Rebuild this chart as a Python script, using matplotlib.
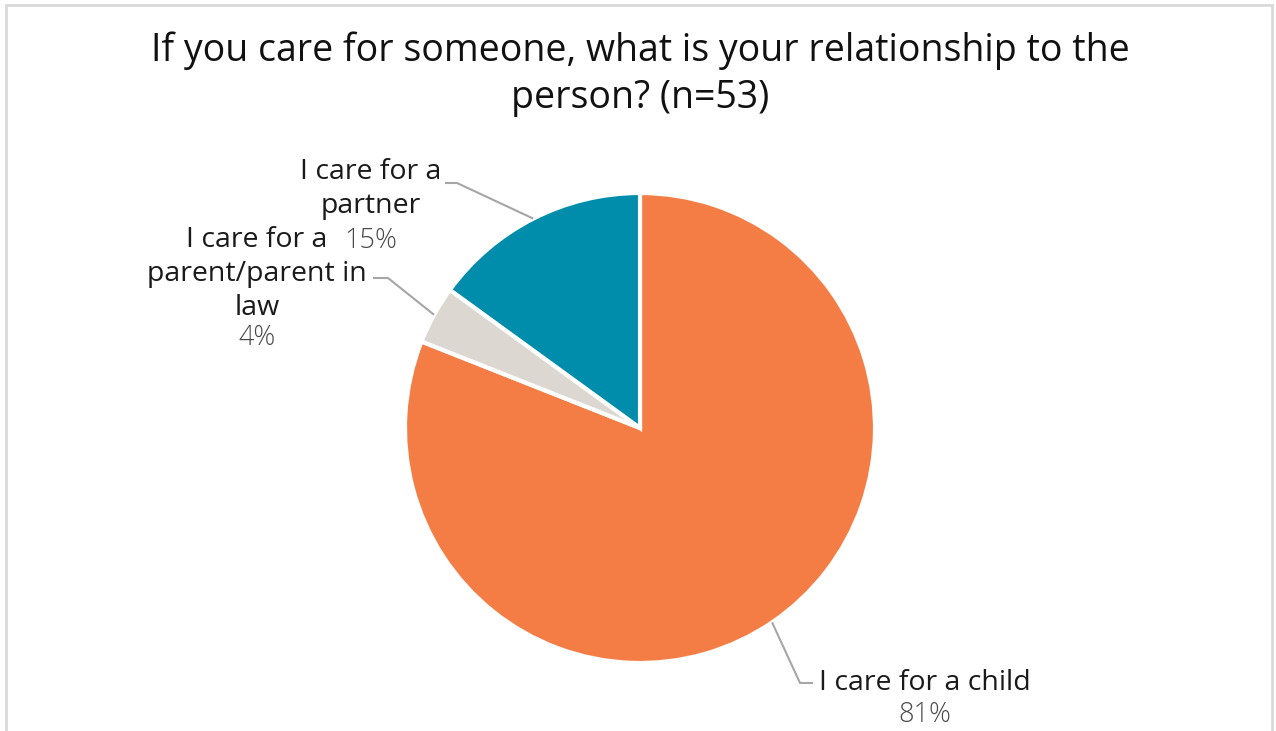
import matplotlib
matplotlib.use('Agg')
import matplotlib.pyplot as plt
import numpy as np
from matplotlib.patches import Rectangle

# survey answers (share of carers, %)
categories = ['I care for a child', 'I care for a\nparent/parent in\nlaw', 'I care for a\npartner']
shares = [81, 4, 15]
pct_labels = ['81%', '4%', '15%']
colors = ['#F47D45', '#DDD7D2', '#008CAB']
title = 'If you care for someone, what is your relationship to the\nperson? (n=53)'

plt.rcParams['font.family'] = ['Open Sans', 'DejaVu Sans']

W, H = 1276, 731
fig = plt.figure(figsize=(W / 100, H / 100), dpi=100)

# light grey chart frame (bottom edge runs off the image)
fig.patches.append(Rectangle((6 / W, -0.05), (1272 - 6) / W, 1.05 - 5 / H,
                             transform=fig.transFigure, fill=False,
                             edgecolor='#D9D9D9', lw=2))

cx, cy, r = 640, 428, 235
ax = fig.add_axes([(cx - r) / W, (H - cy - r) / H, 2 * r / W, 2 * r / H])
wedges, _ = ax.pie(shares, colors=colors, startangle=90, counterclock=False,
                   radius=1, wedgeprops=dict(edgecolor='white', linewidth=3))
ax.set_xlim(-1, 1)
ax.set_ylim(-1, 1)
ax.set_aspect('equal')
ax.axis('off')


def px(x, y):
    # pixel position -> pie data coords
    return (x - cx) / r, (cy - y) / r


# label layout: elbow of leader, end of leader, first text line, percent centre
layout = [
    dict(elbow=(800, 683), end=(813, 683), text=(925, 683), pct=(925, 715)),
    dict(elbow=(388, 278), end=(373, 278), text=(257, 240), pct=(257, 338)),
    dict(elbow=(457, 183), end=(445, 183), text=(371, 172), pct=(371, 241)),
]
line_step = 34  # px between label lines

for w, cat, pct, lay in zip(wedges, categories, pct_labels, layout):
    mid = np.deg2rad((w.theta1 + w.theta2) / 2)
    ax0 = (np.cos(mid), np.sin(mid))
    ex, ey = px(*lay['elbow'])
    nx, ny = px(*lay['end'])
    ax.plot([ax0[0], ex, nx], [ax0[1], ey, ny], color='#A6A6A6', lw=1.5,
            clip_on=False, solid_capstyle='butt')
    x0, y0 = lay['text']
    for i, line in enumerate(cat.split('\n')):
        tx, ty = px(x0, y0 + i * line_step)
        ax.text(tx, ty, line, ha='center', va='center', fontsize=20.5,
                color='#1A1A1A', clip_on=False)
    qx, qy = px(*lay['pct'])
    ax.text(qx, qy, pct, ha='center', va='center', fontsize=19.5,
            color='#4A4A4A', fontweight='light', clip_on=False)

fig.text(640 / W, 1 - 74 / H, title, ha='center', va='center', fontsize=27,
         color='#111111', fontweight='medium', linespacing=1.3)

fig.savefig('out.png', dpi=100)
